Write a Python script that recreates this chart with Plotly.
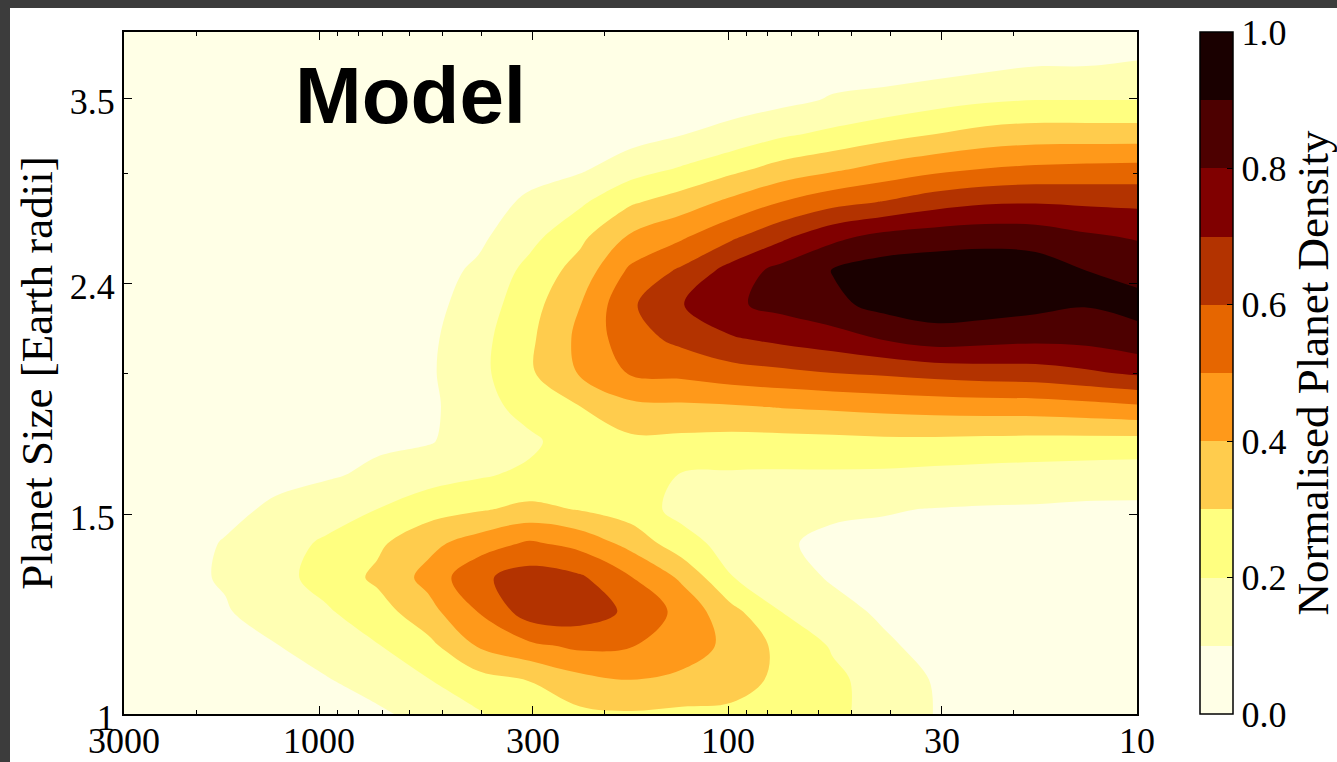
import plotly.graph_objects as go

# Orbital period grid (days) and planet radius grid (Earth radii)
period_days = [3000, 2256, 1696, 1275, 959, 721, 542, 408, 306, 230, 173,
               130, 98, 73.6, 55.4, 41.6, 31.3, 23.5, 17.7, 13.3, 10]
radius_re = [1.000, 1.072, 1.149, 1.231, 1.320, 1.415, 1.516, 1.625, 1.742,
             1.867, 2.001, 2.145, 2.299, 2.464, 2.641, 2.831, 3.034, 3.252,
             3.486, 3.736, 4.004]

# Normalised planet density, one row per radius value (bottom to top)
density = [
    [0.03, 0.045, 0.055, 0.065, 0.07, 0.085, 0.13, 0.19, 0.27, 0.28, 0.29, 0.28, 0.28, 0.26, 0.22, 0.164, 0.098, 0.06, 0.045, 0.04, 0.035],
    [0.04, 0.055, 0.065, 0.08, 0.095, 0.137, 0.196, 0.263, 0.302, 0.371, 0.40, 0.375, 0.34, 0.278, 0.22, 0.16, 0.093, 0.055, 0.045, 0.04, 0.035],
    [0.05, 0.062, 0.08, 0.097, 0.14, 0.195, 0.27, 0.408, 0.478, 0.521, 0.505, 0.46, 0.37, 0.273, 0.19, 0.115, 0.07, 0.05, 0.045, 0.04, 0.04],
    [0.055, 0.07, 0.093, 0.14, 0.189, 0.255, 0.365, 0.502, 0.65, 0.655, 0.58, 0.47, 0.33, 0.198, 0.131, 0.085, 0.06, 0.05, 0.05, 0.045, 0.045],
    [0.06, 0.078, 0.108, 0.17, 0.235, 0.32, 0.43, 0.58, 0.645, 0.615, 0.505, 0.384, 0.203, 0.14, 0.09, 0.07, 0.06, 0.055, 0.06, 0.055, 0.05],
    [0.055, 0.076, 0.104, 0.16, 0.215, 0.281, 0.372, 0.447, 0.514, 0.467, 0.368, 0.24, 0.16, 0.11, 0.08, 0.08, 0.075, 0.07, 0.07, 0.065, 0.065],
    [0.045, 0.065, 0.085, 0.11, 0.155, 0.201, 0.257, 0.29, 0.326, 0.295, 0.25, 0.17, 0.165, 0.15, 0.115, 0.105, 0.097, 0.092, 0.09, 0.085, 0.085],
    [0.04, 0.05, 0.06, 0.085, 0.09, 0.118, 0.161, 0.19, 0.219, 0.235, 0.235, 0.195, 0.188, 0.185, 0.185, 0.181, 0.17, 0.161, 0.155, 0.146, 0.141],
    [0.035, 0.04, 0.05, 0.07, 0.08, 0.085, 0.092, 0.144, 0.18, 0.255, 0.28, 0.275, 0.267, 0.268, 0.274, 0.281, 0.281, 0.275, 0.271, 0.27, 0.267],
    [0.03, 0.035, 0.04, 0.055, 0.065, 0.065, 0.08, 0.157, 0.24, 0.298, 0.373, 0.381, 0.388, 0.405, 0.415, 0.428, 0.437, 0.444, 0.447, 0.462, 0.482],
    [0.025, 0.03, 0.035, 0.045, 0.055, 0.06, 0.085, 0.171, 0.285, 0.41, 0.51, 0.525, 0.558, 0.578, 0.6, 0.615, 0.635, 0.65, 0.657, 0.684, 0.716],
    [0.02, 0.025, 0.03, 0.04, 0.05, 0.055, 0.08, 0.167, 0.281, 0.425, 0.56, 0.626, 0.69, 0.725, 0.757, 0.806, 0.85, 0.835, 0.822, 0.829, 0.867],
    [0.02, 0.025, 0.03, 0.035, 0.045, 0.05, 0.068, 0.146, 0.26, 0.398, 0.585, 0.695, 0.785, 0.83, 0.875, 0.933, 0.958, 0.951, 0.93, 0.906, 0.93],
    [0.02, 0.02, 0.025, 0.03, 0.04, 0.045, 0.06, 0.117, 0.23, 0.341, 0.52, 0.617, 0.74, 0.835, 0.905, 0.95, 0.96, 0.965, 0.953, 0.9, 0.87],
    [0.015, 0.02, 0.025, 0.03, 0.035, 0.04, 0.052, 0.08, 0.169, 0.276, 0.413, 0.485, 0.581, 0.679, 0.773, 0.83, 0.852, 0.864, 0.856, 0.815, 0.79],
    [0.015, 0.02, 0.02, 0.025, 0.03, 0.035, 0.045, 0.075, 0.11, 0.184, 0.288, 0.35, 0.426, 0.505, 0.568, 0.607, 0.659, 0.689, 0.695, 0.686, 0.68],
    [0.015, 0.015, 0.02, 0.025, 0.025, 0.03, 0.04, 0.06, 0.08, 0.085, 0.154, 0.208, 0.271, 0.335, 0.38, 0.43, 0.47, 0.5, 0.516, 0.525, 0.53],
    [0.01, 0.015, 0.02, 0.02, 0.025, 0.03, 0.035, 0.05, 0.06, 0.065, 0.06, 0.097, 0.13, 0.186, 0.222, 0.264, 0.3, 0.335, 0.35, 0.35, 0.35],
    [0.01, 0.015, 0.015, 0.02, 0.02, 0.025, 0.03, 0.04, 0.045, 0.05, 0.05, 0.06, 0.06, 0.075, 0.109, 0.131, 0.162, 0.187, 0.2, 0.2, 0.2],
    [0.01, 0.01, 0.015, 0.02, 0.02, 0.025, 0.025, 0.035, 0.04, 0.045, 0.05, 0.055, 0.05, 0.055, 0.06, 0.05, 0.06, 0.08, 0.099, 0.1, 0.105],
    [0.01, 0.01, 0.015, 0.015, 0.02, 0.02, 0.02, 0.03, 0.035, 0.04, 0.04, 0.042, 0.045, 0.045, 0.045, 0.04, 0.045, 0.055, 0.065, 0.07, 0.075],
]

# Tick labels
x_ticks = [3000, 1000, 300, 100, 30, 10]
x_minor = [2000, 900, 800, 700, 600, 500, 400, 200, 90, 80, 70, 60, 50, 40, 20]
y_ticks = [1, 1.5, 2.4, 3.5]
y_minor = [2, 3]
cbar_ticks = [0.0, 0.2, 0.4, 0.6, 0.8, 1.0]

# Ten discrete bands (reversed "afmhot" style)
band_colors = ["#ffffe6", "#ffffb3", "#ffff80", "#ffcc4d", "#ff991a",
               "#e66600", "#b33300", "#800000", "#4d0000", "#1a0000"]
colorscale = []
for i, c in enumerate(band_colors):
    colorscale.append([i / 10, c])
    colorscale.append([(i + 1) / 10, c])

W, H = 1337, 762
L, R, T, B = 124, 200, 32, 48
pw, ph = W - L - R, H - T - B

serif = "Liberation Serif"

fig = go.Figure(
    go.Contour(
        x=period_days,
        y=radius_re,
        z=density,
        zmin=0, zmax=1, zauto=False,
        colorscale=colorscale,
        autocontour=False,
        contours=dict(start=0.1, end=0.9, size=0.1, coloring="fill", showlines=False),
        line=dict(width=0, smoothing=1),
        hoverinfo="skip",
        colorbar=dict(
            x=(1200 - L) / pw, xanchor="left",
            y=0.5, yanchor="middle",
            len=1, lenmode="fraction",
            thickness=33, thicknessmode="pixels",
            xpad=0, ypad=0,
            outlinecolor="black", outlinewidth=1.5,
            tickmode="array",
            tickvals=cbar_ticks,
            ticktext=[f"{v:.1f}" for v in cbar_ticks],
            ticks="inside", ticklen=6, tickcolor="black",
            tickfont=dict(family=serif, size=36, color="black"),
            title=dict(text="Normalised Planet Density", side="right",
                       font=dict(family=serif, size=45, color="black")),
        ),
    )
)

axis_common = dict(
    showline=True, linecolor="black", linewidth=2, mirror="ticks",
    ticks="inside", ticklen=8, tickwidth=1, tickcolor="black",
    showgrid=False, zeroline=False,
    tickfont=dict(family=serif, size=36, color="black"),
)

fig.update_xaxes(
    type="log",
    range=[3.47712, 1.0],
    tickmode="array",
    tickvals=x_ticks,
    ticktext=[str(v) for v in x_ticks],
    ticklabelstandoff=-6,
    minor=dict(tickmode="array", tickvals=x_minor, ticks="inside",
               ticklen=4, tickcolor="black", showgrid=False),
    **axis_common,
)
fig.update_yaxes(
    type="log",
    range=[0.0, 0.6025],
    tickmode="array",
    tickvals=y_ticks,
    ticktext=["1", "1.5", "2.4", "3.5"],
    ticklabelshift=3,
    minor=dict(tickmode="array", tickvals=y_minor, ticks="inside",
               ticklen=4, tickcolor="black", showgrid=False),
    title=dict(text="Planet Size [Earth radii]", standoff=3,
               font=dict(family=serif, size=45, color="black")),
    **axis_common,
)

# Dark strips along the top and left edges of the page
strip = "#3c3c3c"
fig.add_shape(type="rect", xref="paper", yref="paper",
              x0=-L / pw, x1=(10 - L) / pw, y0=-B / ph, y1=1 + T / ph,
              fillcolor=strip, line=dict(width=0), layer="above")
fig.add_shape(type="rect", xref="paper", yref="paper",
              x0=-L / pw, x1=(W - L) / pw, y0=1 + (T - 8) / ph, y1=1 + T / ph,
              fillcolor=strip, line=dict(width=0), layer="above")

fig.add_annotation(
    text="<b>Model</b>", xref="paper", yref="paper",
    x=(410 - L) / pw, y=(H - B - 95) / ph,
    xanchor="center", yanchor="middle", showarrow=False,
    font=dict(family="Liberation Sans", size=80, color="black"),
)

fig.update_layout(
    template="none",
    width=W, height=H,
    margin=dict(l=L, r=R, t=T, b=B, pad=0, autoexpand=False),
    paper_bgcolor="white",
    plot_bgcolor="#ffffe6",
    showlegend=False,
)

fig.write_html("out.html")
